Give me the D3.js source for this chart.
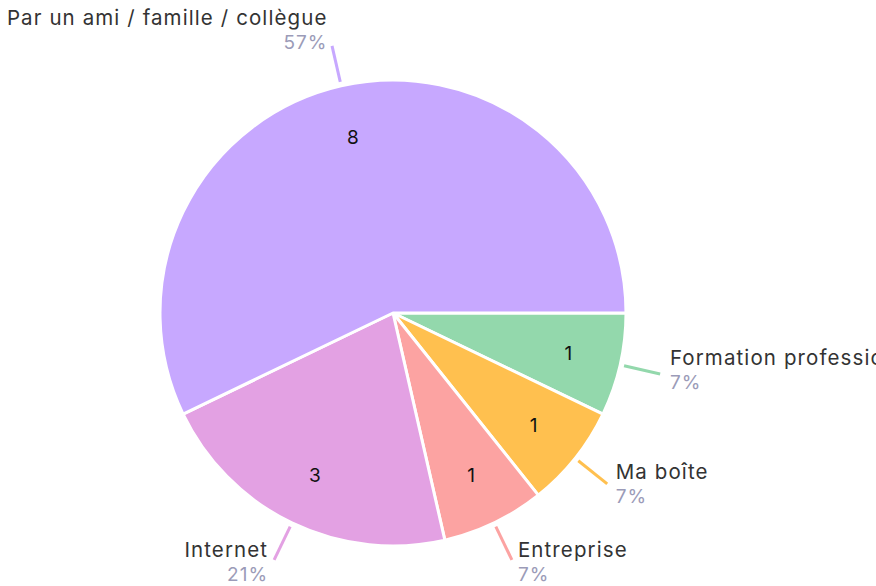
<!DOCTYPE html>
<html>
<head>
<meta charset="utf-8">
<script src="https://cdn.jsdelivr.net/npm/d3@7"></script>
<style>
  body { margin:0; background:#fff; }
  svg { font-family: Inter, "Noto Sans", sans-serif; }
</style>
</head>
<body>
<svg id="chart"></svg>
<script>
// data, clockwise from 3 o'clock
var categories = ["Formation professionnelle", "Ma boîte", "Entreprise", "Internet", "Par un ami / famille / collègue"];
var counts = [1, 1, 1, 3, 8];
var percents = ["7%", "7%", "7%", "21%", "57%"];
var colors = ["#93d8ac", "#ffc04f", "#fca3a2", "#e3a1e3", "#c7a8ff"];

var screen = {width:876, height:586};
var center = {x:393, y:313};
var radius = 233;

var svg = d3.select("#chart")
    .attr("width", screen.width)
    .attr("height", screen.height);

var g = svg.append("g")
    .attr("transform", "translate(" + center.x + "," + center.y + ")");

var rows = categories.map(function(c, i) {
    return {name:c, value:counts[i], pct:percents[i], color:colors[i]};
});

var pie = d3.pie()
    .sort(null)
    .value(function(d) { return d.value; })
    .startAngle(Math.PI / 2)
    .endAngle(Math.PI / 2 + 2 * Math.PI);

var arcs = pie(rows);

var arc = d3.arc().innerRadius(0).outerRadius(radius);
var labelArc = d3.arc().innerRadius(180).outerRadius(180);

g.selectAll("path.slice")
    .data(arcs)
    .enter()
    .append("path")
    .attr("class", "slice")
    .attr("d", arc)
    .attr("fill", function(d) { return d.data.color; })
    .attr("stroke", "#fff")
    .attr("stroke-width", 3)
    .attr("stroke-linejoin", "round");

// counts inside
g.selectAll("text.count")
    .data(arcs)
    .enter()
    .append("text")
    .attr("class", "count")
    .attr("x", function(d) { return labelArc.centroid(d)[0]; })
    .attr("y", function(d) { return labelArc.centroid(d)[1]; })
    .attr("dy", "0.35em")
    .attr("text-anchor", "middle")
    .attr("font-size", 19)
    .attr("fill", "#111")
    .text(function(d) { return d.data.value; });

// leader lines and outside labels
var mid = function(d) { return (d.startAngle + d.endAngle) / 2; };
var pt = function(a, r) { return [Math.sin(a) * r, -Math.cos(a) * r]; };

var outer = g.selectAll("g.outer")
    .data(arcs)
    .enter()
    .append("g")
    .attr("class", "outer");

outer.append("line")
    .attr("x1", function(d) { return pt(mid(d), radius + 4)[0]; })
    .attr("y1", function(d) { return pt(mid(d), radius + 4)[1]; })
    .attr("x2", function(d) { return pt(mid(d), radius + 41)[0]; })
    .attr("y2", function(d) { return pt(mid(d), radius + 41)[1]; })
    .attr("stroke", function(d) { return d.data.color; })
    .attr("stroke-width", 3);

var labelPos = function(d) {
    var a = mid(d);
    var e = pt(a, radius + 41);
    var s = Math.sin(a), ny = -Math.cos(a);
    var x = e[0] + (s >= 0 ? 1 : -1) * (3 + 7 * Math.abs(s));
    var y = e[1] - 11.5 + 10 * ny;
    return [x, y, s >= 0 ? "start" : "end"];
};

outer.append("text")
    .attr("x", function(d) { return labelPos(d)[0]; })
    .attr("y", function(d) { return labelPos(d)[1]; })
    .attr("text-anchor", function(d) { return labelPos(d)[2]; })
    .attr("font-size", 20.5)
    .attr("letter-spacing", 1.1)
    .attr("fill", "#333")
    .text(function(d) { return d.data.name; });

outer.append("text")
    .attr("x", function(d) { return labelPos(d)[0]; })
    .attr("y", function(d) { return labelPos(d)[1] + 24; })
    .attr("text-anchor", function(d) { return labelPos(d)[2]; })
    .attr("font-size", 19)
    .attr("letter-spacing", 1)
    .attr("fill", "#9b9bb8")
    .text(function(d) { return d.data.pct; });
</script>
</body>
</html>
